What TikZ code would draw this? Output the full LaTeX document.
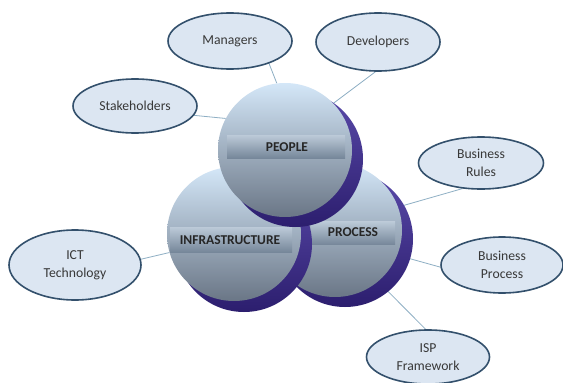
\documentclass[tikz,border=0pt]{standalone}
\usepackage{fontspec}
\setmainfont{Carlito}
\usetikzlibrary{shapes.geometric}
\pgfdeclarelayer{canvasbg}
\pgfdeclarelayer{background}
\pgfsetlayers{canvasbg,background,main}
\definecolor{ellfill}{HTML}{DCE6F2}
\definecolor{elldraw}{HTML}{33506C}
\definecolor{connc}{HTML}{8EAFC4}
\definecolor{ctop}{HTML}{D4E7F8}
\definecolor{cbot}{HTML}{6A7686}
\definecolor{shtop}{HTML}{5A4AAA}
\definecolor{shbot}{HTML}{2C1E6E}
\definecolor{bandtop}{HTML}{BCCAD8}
\definecolor{bandbot}{HTML}{76879A}
\begin{document}
\begin{tikzpicture}[x=1pt,y=-1pt,
 bubble/.style={ellipse, draw=elldraw, line width=1.6pt, fill=ellfill, inner sep=0pt, align=center,
   font=\fontsize{13.7}{18}\selectfont, text=black!78},
 ball/.style={circle, minimum size=134pt, inner sep=0pt, top color=ctop, bottom color=cbot},
 ballshadow/.style={circle, minimum size=136pt, inner sep=0pt, top color=shtop, bottom color=shbot},
 band/.style={minimum height=23pt, inner sep=0pt, top color=bandtop, bottom color=bandbot},
 bandtext/.style={font=\bfseries\fontsize{13.5}{16}\selectfont, text=black!85, inner sep=0pt},
 link/.style={draw=connc, line width=0.8pt}]
\begin{pgfonlayer}{canvasbg}
\fill[white] (0,0) rectangle (563,383);
\end{pgfonlayer}
\useasboundingbox (0,0) rectangle (563,383);

% PROCESS
\node[ballshadow] (procsh) at (345,239) {};
\node[ball] (process) at (335,230) {};
\node[band, minimum width=84pt] (procband) at (353,233) {};
\node[bandtext] (proclabel) at (353,232) {PROCESS};
% INFRASTRUCTURE
\node[ballshadow] (infrash) at (244,244) {};
\node[ball] (infra) at (234,234) {};
\node[band, minimum width=122pt, minimum height=25pt] (infraband) at (231,239.5) {};
\node[bandtext] (infralabel) at (230,240) {INFRASTRUCTURE};
% PEOPLE
\node[ballshadow] (peoplesh) at (295,159) {};
\node[ball] (people) at (285,150) {};
\node[band, minimum width=118pt] (peopleband) at (286,146.5) {};
\node[bandtext] (peoplelabel) at (287,147) {PEOPLE};

% bubbles
\node[bubble, minimum width=124pt, minimum height=56pt] (managers) at (230,41) {Managers};
\node[bubble, minimum width=124pt, minimum height=58pt] (developers) at (378,42) {Developers};
\node[bubble, minimum width=124pt, minimum height=54pt] (stake) at (135,106) {Stakeholders};
\node[bubble, minimum width=125pt, minimum height=52pt] (brules) at (481,163) {Business\\Rules};
\node[bubble, minimum width=132pt, minimum height=70pt] (ict) at (75,265) {ICT\\Technology};
\node[bubble, minimum width=122pt, minimum height=56pt] (bproc) at (502,265) {Business\\Process};
\node[bubble, minimum width=123pt, minimum height=54pt] (isp) at (428,357) {ISP\\Framework};

\begin{pgfonlayer}{background}
\draw[link] (managers.-30) -- (people.97);
\draw[link] (developers.-95) -- (people.44);
\draw[link] (stake.-9) -- (people.152);
\draw[link] (ict.5) -- (infra.196);
\draw[link] (brules.-126) -- (process.20);
\draw[link] (bproc.182) -- (process.-22);
\draw[link] (isp.95) -- (process.-50);
\end{pgfonlayer}
\end{tikzpicture}
\end{document}
